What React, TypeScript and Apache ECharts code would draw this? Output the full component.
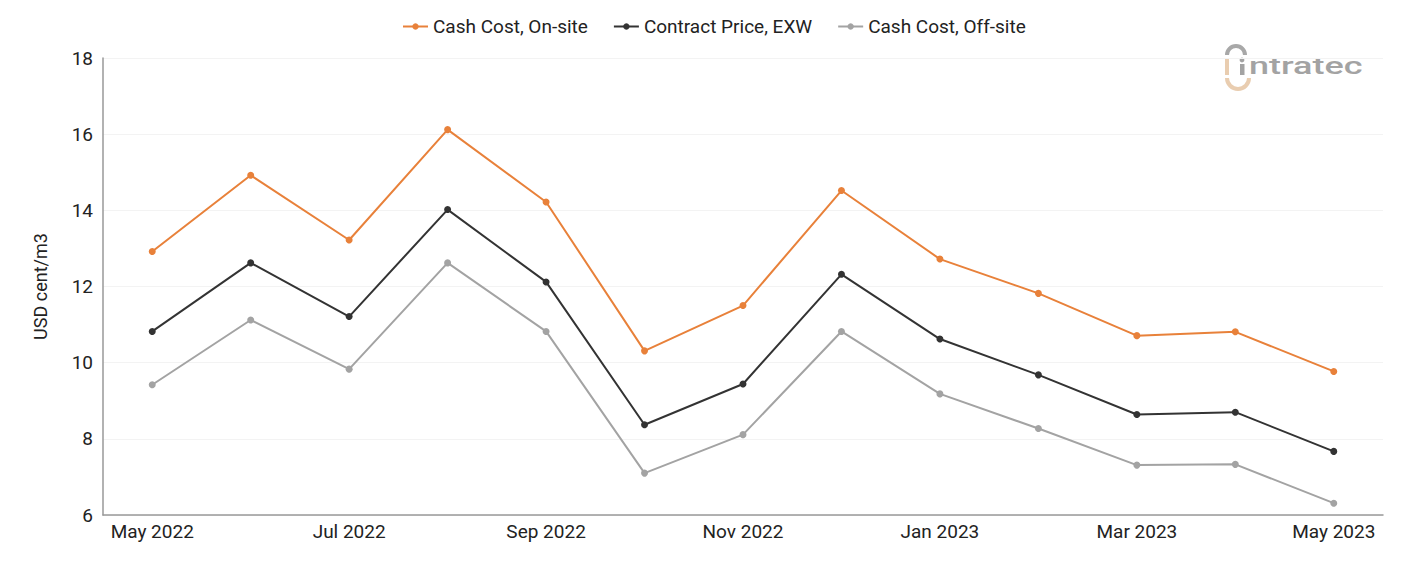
import React, { useEffect, useRef } from "react";
import * as echarts from "echarts";

const categories = [
  "May 2022", "Jun 2022", "Jul 2022", "Aug 2022", "Sep 2022", "Oct 2022", "Nov 2022",
  "Dec 2022", "Jan 2023", "Feb 2023", "Mar 2023", "Apr 2023", "May 2023",
];
const cashCostOnSite = [12.92, 14.92, 13.22, 16.12, 14.22, 10.31, 11.5, 14.52, 12.72, 11.82, 10.71, 10.81, 9.77];
const contractPriceEXW = [10.82, 12.62, 11.21, 14.02, 12.12, 8.37, 9.44, 12.32, 10.62, 9.68, 8.64, 8.7, 7.67];
const cashCostOffSite = [9.42, 11.12, 9.83, 12.62, 10.82, 7.1, 8.11, 10.82, 9.18, 8.27, 7.31, 7.33, 6.31];
const seriesNames = ["Cash Cost, On-site", "Contract Price, EXW", "Cash Cost, Off-site"];
const colors = ["#E8813A", "#333333", "#A3A3A3"];

export default function App() {
  const ref = useRef<HTMLDivElement>(null);
  useEffect(() => {
    if (!ref.current) return;
    const chart = echarts.init(ref.current, null, { renderer: "svg" });
    const font = "Roboto, 'Noto Sans', sans-serif";
    const mk = (name: string, data: number[], color: string) => ({
      name,
      type: "line",
      data,
      symbol: "circle",
      symbolSize: 7,
      lineStyle: { color, width: 2 },
      itemStyle: { color },
      emphasis: { disabled: true },
    });
    chart.setOption({
      animation: false,
      color: colors,
      textStyle: { fontFamily: font },
      legend: {
        top: 12,
        left: 397,
        itemWidth: 25,
        itemHeight: 8,
        itemGap: 25,
        textStyle: { fontSize: 19, color: "#222", fontFamily: font },
        data: seriesNames,
      },
      grid: { left: 103, right: 18, top: 58, bottom: 46, containLabel: false },
      xAxis: {
        type: "category",
        data: categories,
        boundaryGap: true,
        axisLine: { lineStyle: { color: "#999", width: 1.5 } },
        axisTick: { show: false },
        axisLabel: { interval: 1, fontSize: 19, color: "#222", margin: 7, fontFamily: font },
        splitLine: { show: false },
      },
      yAxis: {
        type: "value",
        min: 6,
        max: 18,
        interval: 2,
        name: "USD cent/m3",
        nameLocation: "middle",
        nameGap: 54,
        nameTextStyle: { fontSize: 18, color: "#222", fontFamily: font },
        axisLine: { show: true, lineStyle: { color: "#999", width: 1.5 } },
        axisTick: { show: false },
        axisLabel: { fontSize: 19, color: "#222", margin: 10, fontFamily: font },
        splitLine: { lineStyle: { color: "#f3f3f3", width: 1 } },
      },
      graphic: [
        { type: "rect", shape: { x: 1225, y: 59, width: 4, height: 16 }, style: { fill: "#E9CDB0" } },
        {
          type: "arc",
          shape: { cx: 1236, cy: 55, r: 9, startAngle: Math.PI, endAngle: 2 * Math.PI },
          style: { stroke: "#A8A8A8", lineWidth: 4, fill: "none" },
        },
        {
          type: "arc",
          shape: { cx: 1238, cy: 78, r: 11, startAngle: 0, endAngle: Math.PI },
          style: { stroke: "#E9CDB0", lineWidth: 4, fill: "none" },
        },
        { type: "circle", shape: { cx: 1242, cy: 60, r: 2.4 }, style: { fill: "#A3A3A3" } },
        { type: "rect", shape: { x: 1240, y: 64, width: 4.5, height: 11 }, style: { fill: "#A3A3A3" } },
        {
          type: "text",
          x: 1249,
          y: 54,
          scaleX: 1.5,
          style: {
            text: "ntratec",
            fontSize: 24,
            fontWeight: 500,
            fill: "#A3A3A3",
            fontFamily: font,
            verticalAlign: "top",
          },
        },
      ],
      series: [
        mk(seriesNames[0], cashCostOnSite, colors[0]),
        mk(seriesNames[1], contractPriceEXW, colors[1]),
        mk(seriesNames[2], cashCostOffSite, colors[2]),
      ],
    });
    return () => chart.dispose();
  }, []);
  return (
    <div
      ref={ref}
      style={{ position: "absolute", left: 0, top: 0, width: 1401, height: 561 }}
    />
  );
}
